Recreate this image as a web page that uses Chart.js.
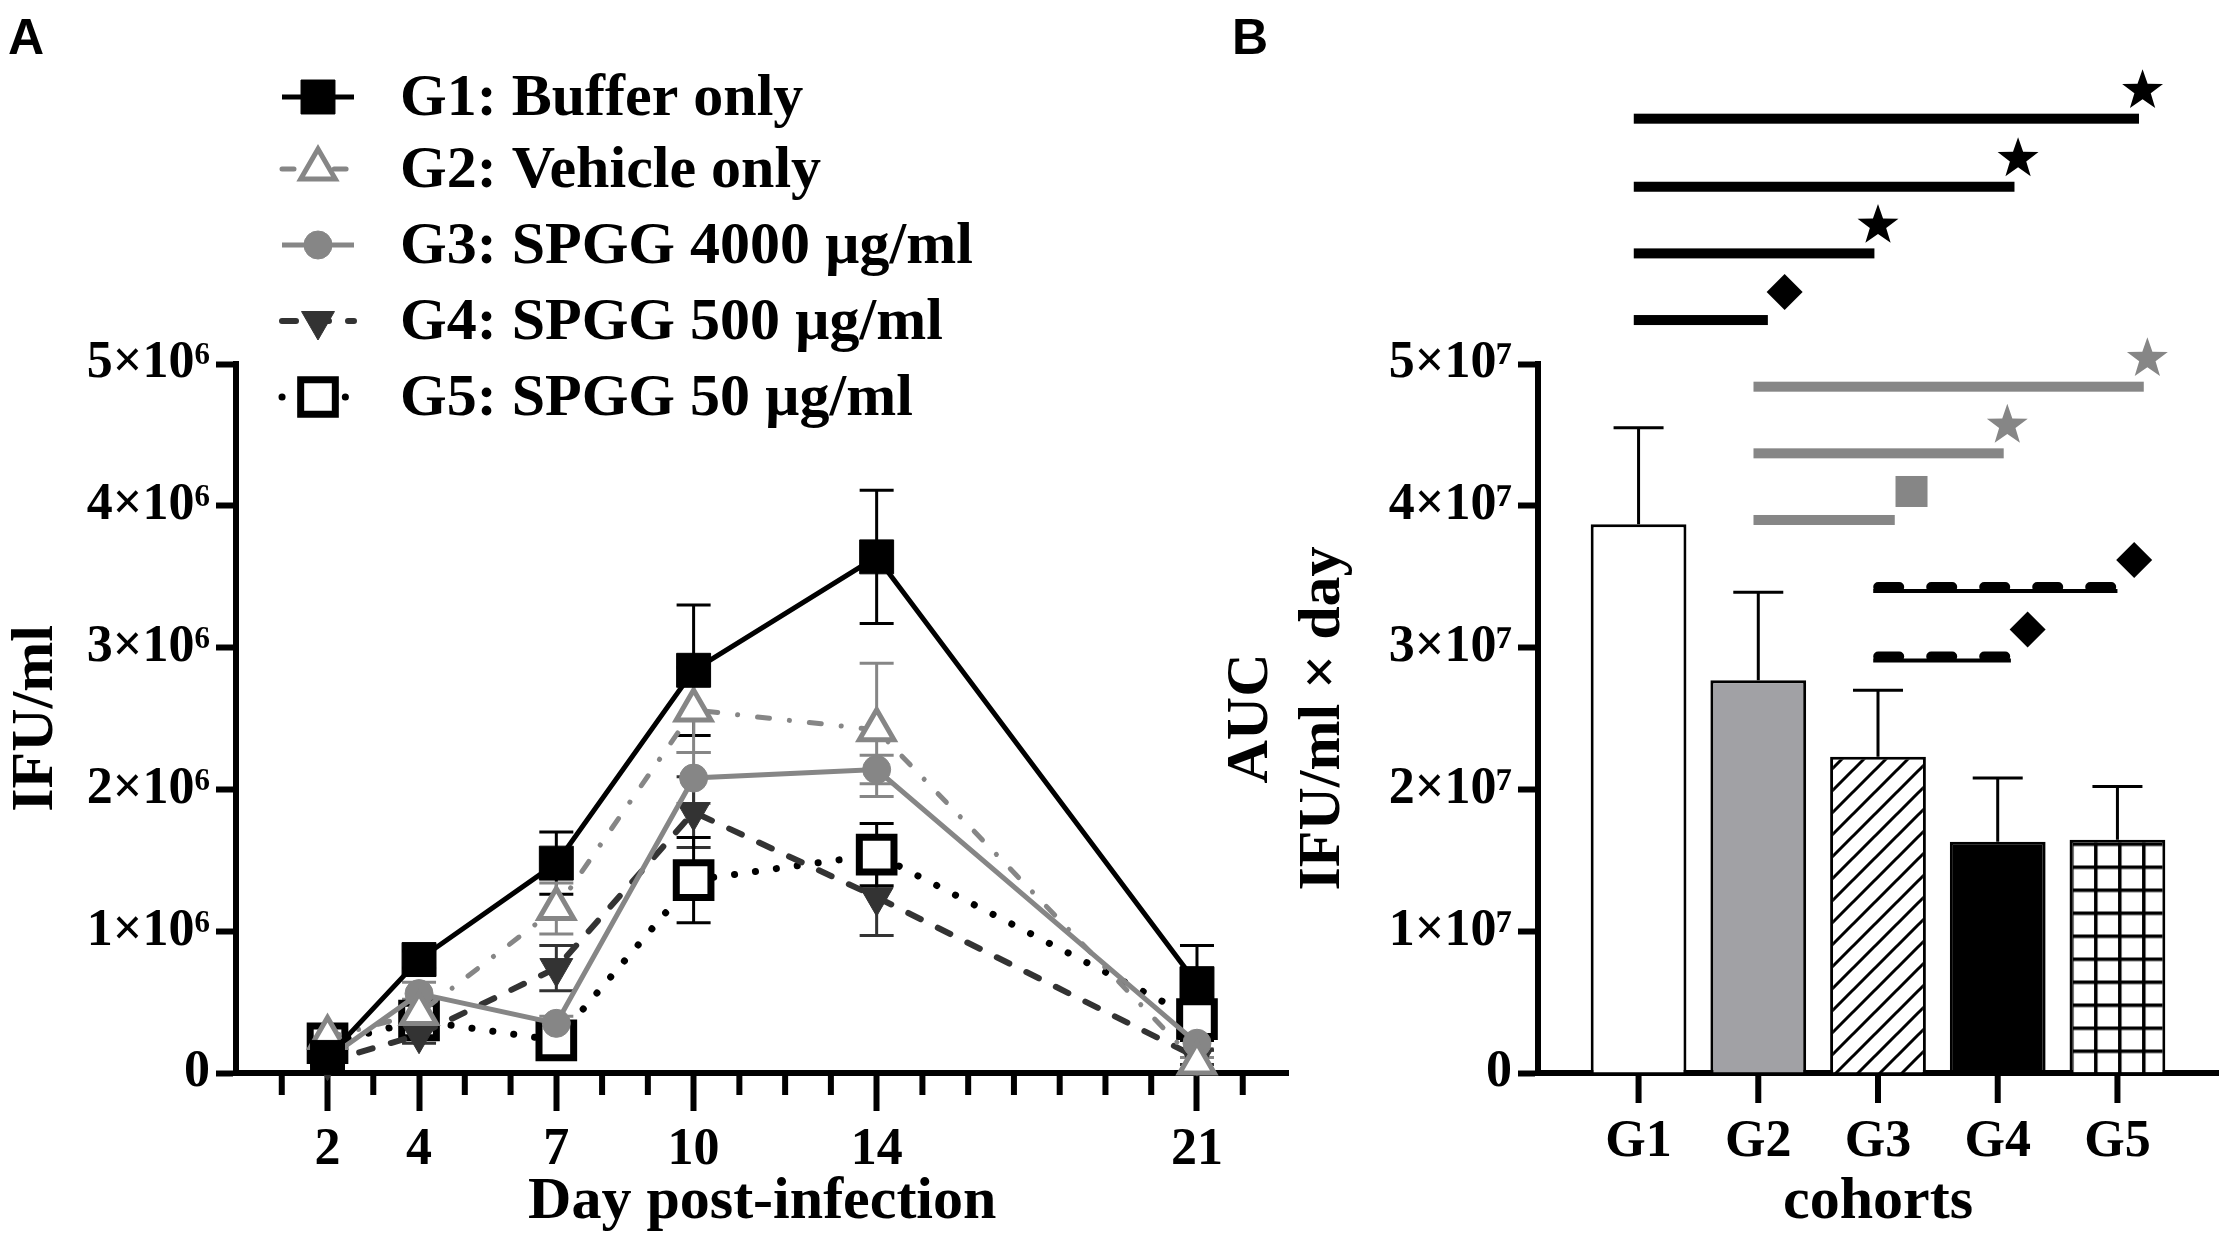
<!DOCTYPE html>
<html>
<head>
<meta charset="utf-8">
<script src="https://cdn.jsdelivr.net/npm/chart.js@4.4.1/dist/chart.umd.min.js"></script>
<style>
  html, body { margin: 0; padding: 0; background: #fff; width: 2230px; height: 1243px; overflow: hidden; }
  #wrapA { position: absolute; left: 0; top: 0; width: 1320px; height: 1243px; }
  #wrapB { position: absolute; left: 1215px; top: 0; width: 1015px; height: 1243px; }
  .tag { position: absolute; top: 12px; font: bold 50px "Liberation Sans", Arial, sans-serif; line-height: 1; }
</style>
</head>
<body>
<div class="tag" style="left:8px">A</div>
<div class="tag" style="left:1232px">B</div>
<div id="wrapA"><canvas id="chartA" width="1320" height="1243"></canvas></div>
<div id="wrapB"><canvas id="chartB" width="1015" height="1243"></canvas></div>
<script>
// panel A : IFU/ml per day (values in units of 10^6)
const days = [2, 4, 7, 10, 14, 21];
const groupNames = ['G1: Buffer only', 'G2: Vehicle only', 'G3: SPGG 4000 µg/ml', 'G4: SPGG 500 µg/ml', 'G5: SPGG 50 µg/ml'];
const g1Mean = [0.11, 0.80, 1.48, 2.84, 3.64, 0.63];
const g1Sem  = [0.05, 0.06, 0.22, 0.46, 0.47, 0.27];
const g2Mean = [0.25, 0.42, 1.16, 2.56, 2.42, 0.07];
const g2Sem  = [0.04, 0.10, 0.18, 0.30, 0.47, 0.04];
const g3Mean = [0.10, 0.56, 0.35, 2.08, 2.14, 0.21];
const g3Sem  = [0.03, 0.08, 0.05, 0.18, 0.10, 0.05];
const g4Mean = [0.08, 0.27, 0.74, 1.84, 1.24, 0.11];
const g4Sem  = [0.03, 0.06, 0.16, 0.25, 0.27, 0.05];
const g5Mean = [0.21, 0.37, 0.23, 1.36, 1.54, 0.38];
const g5Sem  = [0.04, 0.08, 0.05, 0.30, 0.22, 0.15];
const yTicksA = [0, 1, 2, 3, 4, 5];

// panel B : AUC per cohort (values in units of 10^7)
const cohorts = ['G1', 'G2', 'G3', 'G4', 'G5'];
const aucMean = [3.87, 2.77, 2.23, 1.63, 1.645];
const aucSem  = [0.68, 0.62, 0.47, 0.45, 0.375];
const yTicksB = [0, 1, 2, 3, 4, 5];
// significance brackets: compared cohorts, height, end of the bar, symbol
const sigPairs = [[0, 4], [0, 3], [0, 2], [0, 1], [1, 4], [1, 3], [1, 2], [2, 4], [2, 3]];
const sigLevel = [6.73, 6.25, 5.78, 5.31, 4.84, 4.37, 3.90, 3.42, 2.93];
const sigEnd   = [4.18, 3.14, 1.97, 1.08, 4.22, 3.05, 2.14, 4.00, 3.11];
const sigMark  = ['star', 'star', 'star', 'diamond', 'star', 'star', 'square', 'diamond', 'diamond'];

const GREY = '#868686';
const means = [g1Mean, g2Mean, g3Mean, g4Mean, g5Mean];
const sems = [g1Sem, g2Sem, g3Sem, g4Sem, g5Sem];
const looks = [
  {color: '#000000', shape: 'rect', radius: 24, fill: '#000000', edge: 1, width: 5, dash: [], cap: 'butt', rot: 0},
  {color: GREY, shape: 'triangle', radius: 20, fill: '#ffffff', edge: 5, width: 5, dash: [12, 20, 0.1, 20], cap: 'round', rot: 0},
  {color: GREY, shape: 'circle', radius: 14, fill: GREY, edge: 1, width: 5, dash: [], cap: 'butt', rot: 0},
  {color: '#333333', shape: 'triangle', radius: 19, fill: '#333333', edge: 1, width: 6, dash: [14, 19], cap: 'round', rot: 180},
  {color: '#000000', shape: 'rect', radius: 24.5, fill: '#ffffff', edge: 7, width: 7, dash: [0.1, 21], cap: 'round', rot: 0}
];

Chart.defaults.font.family = "'Liberation Serif', 'Times New Roman', serif";
Chart.defaults.font.weight = 'bold';
Chart.defaults.color = '#000';

const tickFont = {size: 52, weight: 'bold'};
const titleFont = {size: 60, weight: 'bold'};

const panelA = {
  id: 'panelA',
  beforeDatasetsDraw(chart) {
    const {ctx, scales: {x, y}} = chart;
    ctx.save();
    ctx.lineWidth = 3;
    means.forEach((m, k) => {
      ctx.strokeStyle = looks[k].color;
      days.forEach((d, i) => {
        const px = x.getPixelForValue(d);
        const top = y.getPixelForValue(m[i] + sems[k][i]);
        const bot = y.getPixelForValue(m[i] - sems[k][i]);
        ctx.beginPath();
        ctx.moveTo(px, top); ctx.lineTo(px, bot);
        ctx.moveTo(px - 17, top); ctx.lineTo(px + 17, top);
        ctx.moveTo(px - 17, bot); ctx.lineTo(px + 17, bot);
        ctx.stroke();
      });
    });
    ctx.restore();
  },
  afterDraw(chart) {
    const {ctx, chartArea, scales: {x}} = chart;
    ctx.save();
    // minor ticks on every day
    ctx.strokeStyle = '#000';
    ctx.lineWidth = 6;
    for (let d = 1; d <= 22; d++) {
      if (days.includes(d)) continue;
      const px = x.getPixelForValue(d);
      ctx.beginPath();
      ctx.moveTo(px, chartArea.bottom);
      ctx.lineTo(px, chartArea.bottom + 22);
      ctx.stroke();
    }
    // legend
    const rows = [97, 169, 245, 321, 397];
    looks.forEach((s, k) => {
      const yy = rows[k];
      ctx.strokeStyle = s.color;
      ctx.lineWidth = s.width;
      ctx.lineCap = s.cap;
      ctx.setLineDash(s.dash);
      ctx.beginPath();
      ctx.moveTo(282, yy); ctx.lineTo(354, yy);
      ctx.stroke();
      ctx.setLineDash([]);
      ctx.lineCap = 'butt';
      ctx.fillStyle = s.fill;
      ctx.lineWidth = s.edge;
      Chart.helpers.drawPoint(ctx, {pointStyle: s.shape, radius: s.radius, rotation: s.rot, borderWidth: s.edge}, 318, yy);
      ctx.fillStyle = '#000';
      ctx.font = "bold 60px 'Liberation Serif', 'Times New Roman', serif";
      ctx.textBaseline = 'middle';
      ctx.fillText(groupNames[k], 400, yy + 2);
    });
    ctx.restore();
  }
};

new Chart(document.getElementById('chartA'), {
  type: 'line',
  data: {
    datasets: means.map((m, k) => ({
      label: groupNames[k],
      data: days.map((d, i) => ({x: d, y: m[i]})),
      borderColor: looks[k].color,
      borderWidth: looks[k].width,
      borderDash: looks[k].dash,
      borderCapStyle: looks[k].cap,
      pointStyle: looks[k].shape,
      pointRadius: looks[k].radius,
      pointRotation: looks[k].rot,
      pointBackgroundColor: looks[k].fill,
      pointBorderColor: looks[k].color,
      pointBorderWidth: looks[k].edge,
      tension: 0,
      clip: false
    }))
  },
  options: {
    responsive: false,
    animation: false,
    devicePixelRatio: 1,
    layout: {padding: {top: 364, right: 16, left: 0, bottom: 0}},
    plugins: {legend: {display: false}, tooltip: {enabled: false}},
    scales: {
      x: {
        type: 'linear', min: 0, max: 23,
        afterBuildTicks: s => { s.ticks = days.map(v => ({value: v})); },
        ticks: {font: tickFont, padding: 8, maxRotation: 0, autoSkip: false, callback: v => String(v)},
        grid: {drawOnChartArea: false, tickLength: 38, tickWidth: 6, tickColor: '#000'},
        border: {color: '#000', width: 6},
        title: {display: true, text: 'Day post-infection', font: titleFont, padding: {top: 0, bottom: 5}},
        afterFit: s => { s.height = 170; }
      },
      y: {
        min: 0, max: 5,
        afterBuildTicks: s => { s.ticks = yTicksA.map(v => ({value: v})); },
        ticks: {font: tickFont, padding: 6, callback: v => v === 0 ? '0' : v + '×10⁶'},
        grid: {drawOnChartArea: false, tickLength: 20, tickWidth: 6, tickColor: '#000'},
        border: {color: '#000', width: 6},
        title: {display: true, text: 'IFU/ml', font: titleFont, padding: 0},
        afterFit: s => { s.width = 236; }
      }
    }
  },
  plugins: [panelA]
});

// bar fills
function makeHatch() {
  const c = document.createElement('canvas');
  c.width = 22; c.height = 22;
  const g = c.getContext('2d');
  g.fillStyle = '#fff'; g.fillRect(0, 0, 22, 22);
  g.strokeStyle = '#000'; g.lineWidth = 3;
  g.beginPath();
  g.moveTo(-11, 33); g.lineTo(33, -11);
  g.moveTo(-11, 11); g.lineTo(11, -11);
  g.moveTo(11, 33); g.lineTo(33, 11);
  g.stroke();
  return g.createPattern(c, 'repeat');
}
function makeGrid() {
  const c = document.createElement('canvas');
  c.width = 24; c.height = 23;
  const g = c.getContext('2d');
  g.fillStyle = '#fff'; g.fillRect(0, 0, 24, 23);
  g.fillStyle = '#000';
  g.fillRect(0, 0, 3.5, 23);
  g.fillRect(0, 0, 24, 3.5);
  return g.createPattern(c, 'repeat');
}
const hatch = makeHatch();
const gridFill = makeGrid();

function drawStar(ctx, cx, cy, R) {
  const r = R * 0.4;
  ctx.beginPath();
  for (let i = 0; i < 10; i++) {
    const a = -Math.PI / 2 + i * Math.PI / 5;
    const rr = i % 2 ? r : R;
    ctx.lineTo(cx + rr * Math.cos(a), cy + rr * Math.sin(a));
  }
  ctx.closePath();
  ctx.fill();
}

const panelB = {
  id: 'panelB',
  beforeDatasetsDraw(chart) {
    const el = chart.getDatasetMeta(0).data[4];
    if (el) {
      gridFill.setTransform(new DOMMatrix([1, 0, 0, 1, el.x - el.width / 2 + 0.5, el.base]));
    }
  },
  afterDatasetsDraw(chart) {
    const {ctx, chartArea, scales: {x, y}} = chart;
    ctx.save();
    ctx.strokeStyle = '#000';
    ctx.lineWidth = 3;
    aucMean.forEach((m, i) => {
      const px = x.getPixelForValue(i);
      const top = y.getPixelForValue(m + aucSem[i]);
      ctx.beginPath();
      ctx.moveTo(px, y.getPixelForValue(m)); ctx.lineTo(px, top);
      ctx.moveTo(px - 25, top); ctx.lineTo(px + 25, top);
      ctx.stroke();
    });
    // tick marks under each cohort
    ctx.lineWidth = 6;
    cohorts.forEach((c, i) => {
      const px = x.getPixelForValue(i);
      ctx.beginPath();
      ctx.moveTo(px, chartArea.bottom);
      ctx.lineTo(px, chartArea.bottom + 30);
      ctx.stroke();
    });
    ctx.restore();
  },
  afterDraw(chart) {
    const {ctx, scales: {x, y}} = chart;
    ctx.save();
    sigPairs.forEach(([a], k) => {
      const yy = y.getPixelForValue(sigLevel[k]);
      const x0 = x.getPixelForValue(a - 0.04);
      const x1 = x.getPixelForValue(sigEnd[k]);
      const col = a === 1 ? GREY : '#000';
      ctx.strokeStyle = col;
      ctx.fillStyle = col;
      if (a === 2) {
        ctx.lineWidth = 4;
        ctx.beginPath(); ctx.moveTo(x0, yy + 3); ctx.lineTo(x1, yy + 3); ctx.stroke();
        ctx.lineWidth = 10;
        ctx.lineCap = 'round';
        ctx.setLineDash([21, 32]);
        ctx.beginPath(); ctx.moveTo(x0 + 5, yy - 1); ctx.lineTo(x1 - 5, yy - 1); ctx.stroke();
        ctx.setLineDash([]);
        ctx.lineCap = 'butt';
      } else {
        ctx.fillRect(x0, yy - 5, x1 - x0, 10);
      }
      const mark = sigMark[k];
      const mx = x.getPixelForValue(sigEnd[k] + (mark === 'star' ? 0.03 : 0.14));
      const my = yy - 28;
      if (mark === 'star') {
        drawStar(ctx, mx, my, 21.5);
      } else if (mark === 'diamond') {
        ctx.beginPath();
        ctx.moveTo(mx, my - 18); ctx.lineTo(mx + 18, my); ctx.lineTo(mx, my + 18); ctx.lineTo(mx - 18, my);
        ctx.closePath(); ctx.fill();
      } else {
        ctx.fillRect(mx - 16, my - 16, 32, 31);
      }
    });
    ctx.restore();
  }
};

new Chart(document.getElementById('chartB'), {
  type: 'bar',
  data: {
    datasets: [{
      data: cohorts.map((c, i) => ({x: i, y: aucMean[i]})),
      backgroundColor: ['#ffffff', '#a1a1a5', hatch, '#000000', gridFill],
      borderColor: '#000',
      borderWidth: 3,
      categoryPercentage: 1,
      barPercentage: 0.8
    }]
  },
  options: {
    responsive: false,
    animation: false,
    devicePixelRatio: 1,
    layout: {padding: {top: 364, right: 12, left: 0, bottom: 0}},
    plugins: {legend: {display: false}, tooltip: {enabled: false}},
    scales: {
      x: {
        type: 'linear', min: -0.84, max: 4.84, offset: false,
        afterBuildTicks: s => { s.ticks = cohorts.map((c, i) => ({value: i})); },
        ticks: {font: tickFont, padding: 8, maxRotation: 0, autoSkip: false, callback: v => cohorts[v]},
        grid: {offset: false, drawOnChartArea: false, tickLength: 30, tickWidth: 6, tickColor: 'rgba(0,0,0,0)'},
        border: {color: '#000', width: 6},
        title: {display: true, text: 'cohorts', font: titleFont, padding: {top: 0, bottom: 5}},
        afterFit: s => { s.height = 170; }
      },
      y: {
        min: 0, max: 5,
        afterBuildTicks: s => { s.ticks = yTicksB.map(v => ({value: v})); },
        ticks: {font: tickFont, padding: 6, callback: v => v === 0 ? '0' : v + '×10⁷'},
        grid: {drawOnChartArea: false, tickLength: 20, tickWidth: 6, tickColor: '#000'},
        border: {color: '#000', width: 6},
        title: {display: true, text: ['AUC', 'IFU/ml × day'], font: titleFont, padding: 0},
        afterFit: s => { s.width = 323; }
      }
    }
  },
  plugins: [panelB]
});
</script>
</body>
</html>
